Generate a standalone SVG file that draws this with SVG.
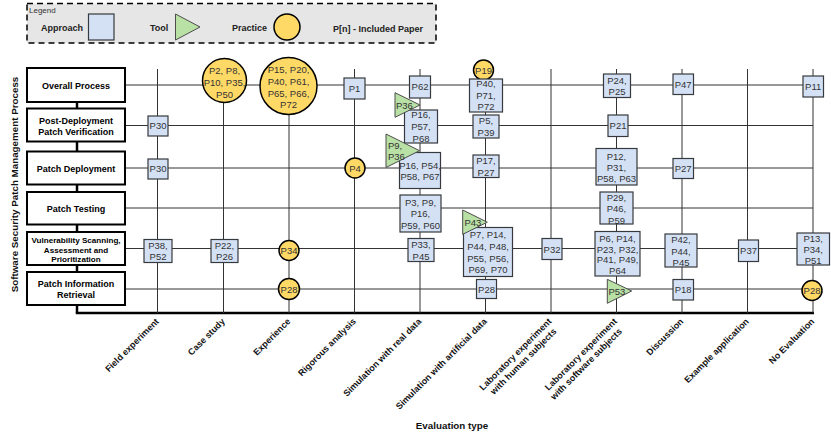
<svg xmlns="http://www.w3.org/2000/svg" width="831" height="440" viewBox="0 0 831 440">
<style>
.proc{fill:#fff;stroke:#000;stroke-width:2}
.pt{font-family:"Liberation Sans",Arial,sans-serif;font-weight:bold;font-size:9px;fill:#000;text-anchor:middle}
.pts{font-family:"Liberation Sans",Arial,sans-serif;font-weight:bold;font-size:8.1px;fill:#000;text-anchor:middle}
.ap{fill:#d4e1f5;stroke:#36393d;stroke-width:1.2}
.pr{fill:#ffd966;stroke:#000;stroke-width:1.5}
.tl{fill:#b9e0a5;stroke:#4d4d4d;stroke-width:1}
.nt{font-family:"Liberation Sans",Arial,sans-serif;font-size:9.5px;fill:#333;text-anchor:middle}
.ntl{font-family:"Liberation Sans",Arial,sans-serif;font-size:9.5px;fill:#333;text-anchor:start}
.grid{stroke:#333;stroke-width:1;fill:none}
.thick{stroke:#000;stroke-width:2.5;fill:none}
.ax{font-family:"Liberation Sans",Arial,sans-serif;font-weight:bold;font-size:9px;fill:#111;text-anchor:end}
.lg{font-family:"Liberation Sans",Arial,sans-serif;font-weight:bold;font-size:9px;fill:#222}
</style>
<rect width="831" height="440" fill="#fff"/>

<g id="legend">
<rect x="27" y="3.5" width="409" height="39.5" fill="#e6e6e6" stroke="#000" stroke-width="1.5" stroke-dasharray="6 4"/>
<text x="29" y="13" font-family="Liberation Sans,Arial,sans-serif" font-size="8" fill="#333">Legend</text>
<text class="lg" x="41" y="31">Approach</text>
<rect class="ap" x="88.5" y="14" width="25.5" height="26"/>
<text class="lg" x="150" y="31">Tool</text>
<polygon class="tl" points="175.5,14 175.5,40 200,27"/>
<text class="lg" x="232" y="31">Practice</text>
<circle class="pr" cx="287" cy="27" r="13"/>
<text class="lg" x="333" y="32">P[n] - Included Paper</text>
</g>

<g id="connectors">
<line class="thick" x1="77" y1="102" x2="77" y2="313"/>
<line class="thick" x1="75.8" y1="313" x2="814" y2="313"/>
<g class="grid">
<line x1="125" y1="85" x2="813" y2="85"/>
<line x1="125" y1="125.5" x2="813" y2="125.5"/>
<line x1="125" y1="168" x2="813" y2="168"/>
<line x1="125" y1="208" x2="813" y2="208"/>
<line x1="125" y1="248.5" x2="813" y2="248.5"/>
<line x1="125" y1="289" x2="813" y2="289"/>
<line x1="157.5" y1="69" x2="157.5" y2="313"/>
<line x1="223.5" y1="69" x2="223.5" y2="313"/>
<line x1="289" y1="69" x2="289" y2="313"/>
<line x1="354.5" y1="69" x2="354.5" y2="313"/>
<line x1="420" y1="69" x2="420" y2="313"/>
<line x1="485.5" y1="69" x2="485.5" y2="313"/>
<line x1="551" y1="69" x2="551" y2="313"/>
<line x1="616.5" y1="69" x2="616.5" y2="313"/>
<line x1="682" y1="69" x2="682" y2="313"/>
<line x1="747.5" y1="69" x2="747.5" y2="313"/>
<line x1="813" y1="69" x2="813" y2="313"/>
</g>
</g>

<g id="process">
<g id="p-overall"><rect class="proc" x="27" y="68" width="98" height="34"/><text class="pt" x="76" y="88.5">Overall Process</text></g>
<g id="p-verify"><rect class="proc" x="27" y="108.5" width="98" height="33"/><text class="pt" x="76" y="124">Post-Deployment</text><text class="pt" x="76" y="135">Patch Verification</text></g>
<g id="p-deploy"><rect class="proc" x="27" y="151.5" width="98" height="33"/><text class="pt" x="76" y="171.5">Patch Deployment</text></g>
<g id="p-testing"><rect class="proc" x="27" y="192" width="98" height="32.5"/><text class="pt" x="76" y="211.5">Patch Testing</text></g>
<g id="p-vuln"><rect class="proc" x="27" y="232" width="98" height="33"/><text class="pts" x="76" y="243.3">Vulnerability Scanning,</text><text class="pts" x="76" y="252.8">Assessment and</text><text class="pts" x="76" y="262.3">Prioritization</text></g>
<g id="p-info"><rect class="proc" x="27" y="272" width="98" height="33"/><text class="pt" x="76" y="287">Patch Information</text><text class="pt" x="76" y="297.5">Retrieval</text></g>
</g>

<g id="nodes">
<g id="n1"><rect class="ap" x="148" y="116" width="20" height="20"/><text class="nt" x="158" y="129.4">P30</text></g>
<g id="n2"><rect class="ap" x="148" y="159" width="20" height="20"/><text class="nt" x="158" y="172.4">P30</text></g>
<g id="n3"><rect class="ap" x="144" y="239.5" width="28" height="23"/><text class="nt" x="158" y="248.6">P38,</text><text class="nt" x="158" y="259.8">P52</text></g>
<g id="n4"><circle class="pr" cx="224.5" cy="80.5" r="22"/><text class="nt" x="224.5" y="73.5">P2, P8,</text><text class="nt" x="224.5" y="85.5">P10, P35,</text><text class="nt" x="224.5" y="97.5">P50</text></g>
<g id="n5"><rect class="ap" x="211" y="239.5" width="27" height="23"/><text class="nt" x="224.5" y="248.6">P22,</text><text class="nt" x="224.5" y="259.8">P26</text></g>
<g id="n6"><circle class="pr" cx="288.5" cy="86" r="28.5"/><text class="nt" x="288.5" y="73.4">P15, P20,</text><text class="nt" x="288.5" y="85">P40, P61,</text><text class="nt" x="288.5" y="96.6">P65, P66,</text><text class="nt" x="288.5" y="108">P72</text></g>
<g id="n7"><circle class="pr" cx="289" cy="250.5" r="10"/><text class="nt" x="289" y="254">P34</text></g>
<g id="n8"><circle class="pr" cx="289" cy="289" r="10.5"/><text class="nt" x="289" y="292.5">P28</text></g>
<g id="n9"><rect class="ap" x="344" y="78" width="21" height="21"/><text class="nt" x="354.5" y="92">P1</text></g>
<g id="n10"><circle class="pr" cx="355" cy="168" r="10"/><text class="nt" x="355" y="171.5">P4</text></g>
<g id="n11"><rect class="ap" x="409.5" y="76" width="21" height="22"/><text class="nt" x="420" y="90.4">P62</text></g>
<g id="n12"><rect class="ap" x="404.5" y="110" width="33" height="33"/><text class="nt" x="421" y="118.4">P16,</text><text class="nt" x="421" y="130">P57,</text><text class="nt" x="421" y="141.6">P68</text></g>
<g id="n13"><polygon class="tl" points="395,92.7 395,117.3 420,105"/><text class="ntl" x="396" y="108.5">P36</text></g>
<g id="n14"><rect class="ap" x="399.5" y="152.5" width="41" height="36"/><text class="nt" x="420" y="169.4">P16, P54,</text><text class="nt" x="420" y="180.4">P58, P67</text></g>
<g id="n15"><polygon class="tl" points="386,134 386,167.5 419.5,150.7"/><text class="ntl" x="388" y="149.4">P9,</text><text class="ntl" x="388" y="159.6">P36</text></g>
<g id="n16"><rect class="ap" x="400" y="195" width="41" height="37"/><text class="nt" x="420.5" y="206">P3, P9,</text><text class="nt" x="420.5" y="217.4">P16,</text><text class="nt" x="420.5" y="228.6">P59, P60</text></g>
<g id="n17"><rect class="ap" x="408" y="238.5" width="26" height="23"/><text class="nt" x="421" y="248.4">P33,</text><text class="nt" x="421" y="260">P45</text></g>
<g id="n18"><circle class="pr" cx="483.5" cy="70" r="10"/><text class="nt" x="483.5" y="73.5">P19</text></g>
<g id="n19"><rect class="ap" x="469.5" y="79" width="33" height="33"/><text class="nt" x="486" y="87.4">P40,</text><text class="nt" x="486" y="99">P71,</text><text class="nt" x="486" y="110.2">P72</text></g>
<g id="n20"><rect class="ap" x="473" y="115" width="26" height="23"/><text class="nt" x="486" y="124.4">P5,</text><text class="nt" x="486" y="136">P39</text></g>
<g id="n21"><rect class="ap" x="473" y="155" width="26" height="22.5"/><text class="nt" x="486" y="163.6">P17,</text><text class="nt" x="486" y="175.6">P27</text></g>
<g id="n22"><rect class="ap" x="463.5" y="227.5" width="49" height="49"/><text class="nt" x="488" y="238.4">P7, P14,</text><text class="nt" x="488" y="250">P44, P48,</text><text class="nt" x="488" y="261.7">P55, P56,</text><text class="nt" x="488" y="273.4">P69, P70</text></g>
<g id="n23"><polygon class="tl" points="462.7,210 462.7,234.3 487.3,222.2"/><text class="ntl" x="464.5" y="225.6">P43</text></g>
<g id="n24"><rect class="ap" x="476.5" y="279.5" width="20" height="19"/><text class="nt" x="486.5" y="292.5">P28</text></g>
<g id="n25"><rect class="ap" x="542" y="238.5" width="20" height="21"/><text class="nt" x="552" y="252.5">P32</text></g>
<g id="n26"><rect class="ap" x="603.5" y="74" width="27" height="23.5"/><text class="nt" x="617" y="84">P24,</text><text class="nt" x="617" y="95">P25</text></g>
<g id="n27"><rect class="ap" x="608" y="115" width="20" height="21.5"/><text class="nt" x="618" y="129.3">P21</text></g>
<g id="n28"><rect class="ap" x="596" y="148.5" width="41" height="36.5"/><text class="nt" x="616.5" y="160">P12,</text><text class="nt" x="616.5" y="171">P31,</text><text class="nt" x="616.5" y="182.4">P58, P63</text></g>
<g id="n29"><rect class="ap" x="600" y="192" width="33" height="32"/><text class="nt" x="616.5" y="200.7">P29,</text><text class="nt" x="616.5" y="212.4">P46,</text><text class="nt" x="616.5" y="224">P59</text></g>
<g id="n30"><rect class="ap" x="595" y="231.5" width="45" height="44.5"/><text class="nt" x="617.5" y="242.4">P6, P14,</text><text class="nt" x="617.5" y="252.8">P23, P32,</text><text class="nt" x="617.5" y="263.4">P41, P49,</text><text class="nt" x="617.5" y="274">P64</text></g>
<g id="n31"><polygon class="tl" points="607.3,279.3 607.3,303.3 631.7,291"/><text class="ntl" x="608.5" y="294.5">P53</text></g>
<g id="n32"><rect class="ap" x="673" y="74" width="20.5" height="20.5"/><text class="nt" x="683.2" y="87.6">P47</text></g>
<g id="n33"><rect class="ap" x="673" y="158.5" width="20.5" height="20"/><text class="nt" x="683.2" y="171.8">P27</text></g>
<g id="n34"><rect class="ap" x="665" y="234" width="32" height="33"/><text class="nt" x="681" y="243.4">P42,</text><text class="nt" x="681" y="255">P44,</text><text class="nt" x="681" y="266">P45</text></g>
<g id="n35"><rect class="ap" x="673" y="279.5" width="20.5" height="20.5"/><text class="nt" x="683.2" y="293">P18</text></g>
<g id="n36"><rect class="ap" x="738.5" y="240" width="20" height="21.5"/><text class="nt" x="748.5" y="254">P37</text></g>
<g id="n37"><rect class="ap" x="803" y="76" width="20.5" height="21"/><text class="nt" x="813.2" y="90">P11</text></g>
<g id="n38"><rect class="ap" x="797" y="233" width="32.5" height="32"/><text class="nt" x="813.2" y="242.4">P13,</text><text class="nt" x="813.2" y="253.4">P34,</text><text class="nt" x="813.2" y="264.4">P51</text></g>
<g id="n39"><circle class="pr" cx="812" cy="290.5" r="10"/><text class="nt" x="812" y="294">P28</text></g>
</g>

<g id="axis-labels">
<text class="ax" transform="translate(159.5,322) rotate(-45)">Field experiment</text>
<text class="ax" transform="translate(225.5,322) rotate(-45)">Case study</text>
<text class="ax" transform="translate(291,322) rotate(-45)">Experience</text>
<text class="ax" transform="translate(356.5,322) rotate(-45)">Rigorous analysis</text>
<text class="ax" transform="translate(422,322) rotate(-45)">Simulation with real data</text>
<text class="ax" transform="translate(487.5,322) rotate(-45)">Simulation with artificial data</text>
<text class="ax" transform="translate(552,322) rotate(-45)">Laboratory experiment<tspan x="-3.5" dy="10.6">with human subjects</tspan></text>
<text class="ax" transform="translate(617.5,322) rotate(-45)">Laboratory experiment<tspan x="-3.5" dy="10.6">with software subjects</tspan></text>
<text class="ax" transform="translate(684,322) rotate(-45)">Discussion</text>
<text class="ax" transform="translate(749.5,322) rotate(-45)">Example application</text>
<text class="ax" transform="translate(815,322) rotate(-45)">No Evaluation</text>
<text x="452" y="429" font-family="Liberation Sans,Arial,sans-serif" font-weight="bold" font-size="9.8" fill="#111" text-anchor="middle">Evaluation type</text>
<text transform="translate(17.5,184.5) rotate(-90)" font-family="Liberation Sans,Arial,sans-serif" font-weight="bold" font-size="9.8" fill="#111" text-anchor="middle">Software Security Patch Management Process</text>
</g>
</svg>
